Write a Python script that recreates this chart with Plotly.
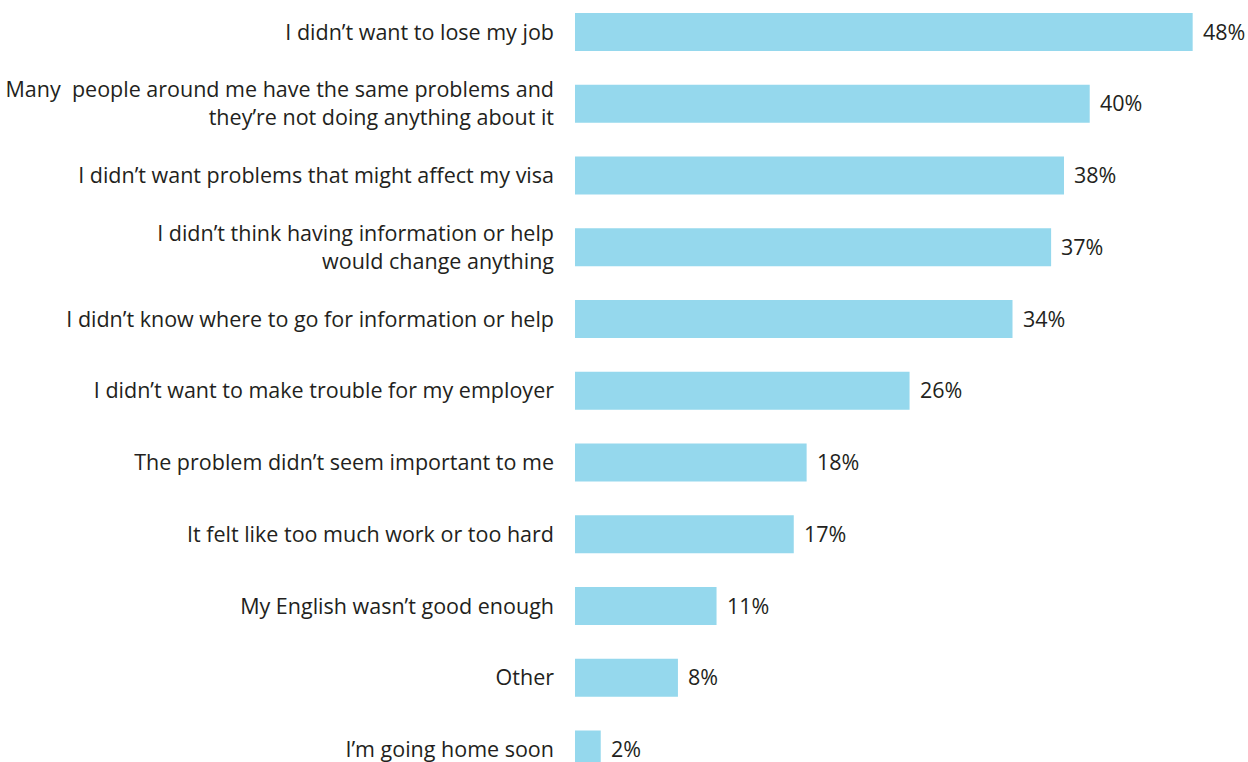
import plotly.graph_objects as go

# Reasons for not seeking help, share of respondents (%)
reasons = [
    "I didn’t want to lose my job",
    "Many\u00a0 people around me have the same problems and<br>they’re not doing anything about it",
    "I didn’t want problems that might affect my visa",
    "I didn’t think having information or help<br>would change anything",
    "I didn’t know where to go for information or help",
    "I didn’t want to make trouble for my employer",
    "The problem didn’t seem important to me",
    "It felt like too much work or too hard",
    "My English wasn’t good enough",
    "Other",
    "I’m going home soon",
]
shares = [48, 40, 38, 37, 34, 26, 18, 17, 11, 8, 2]
share_labels = [f"{v}%" for v in shares]

BAR_COLOR = "#95d8ed"
TEXT_COLOR = "#231f20"
FONT = "Open Sans, Noto Sans, sans-serif"

fig = go.Figure(
    go.Bar(
        x=shares,
        y=reasons,
        orientation="h",
        marker=dict(color=BAR_COLOR, line=dict(width=0)),
        width=0.53,
        hoverinfo="skip",
    )
)

# value labels just past the end of each bar
for r, v, lab in zip(reasons, shares, share_labels):
    fig.add_annotation(
        x=v, y=r, text=lab, showarrow=False,
        xanchor="left", yanchor="middle", xshift=9, yshift=1,
        borderpad=0,
        font=dict(family=FONT, size=21.5, color=TEXT_COLOR),
    )

fig.update_layout(
    width=1248,
    height=762,
    margin=dict(l=575, r=0, t=0, b=0),
    paper_bgcolor="white",
    plot_bgcolor="white",
    showlegend=False,
    font=dict(family=FONT, size=21.5, color=TEXT_COLOR),
    xaxis=dict(
        range=[0, 52.3],
        visible=False,
        fixedrange=True,
    ),
    yaxis=dict(
        type="category",
        categoryorder="array",
        categoryarray=reasons,
        range=[10.174, -0.446],
        showline=False,
        showgrid=False,
        zeroline=False,
        ticks="",
        ticklabelstandoff=20,
        tickfont=dict(family=FONT, size=21.5, color=TEXT_COLOR),
    ),
)

fig.write_html("out.html")
